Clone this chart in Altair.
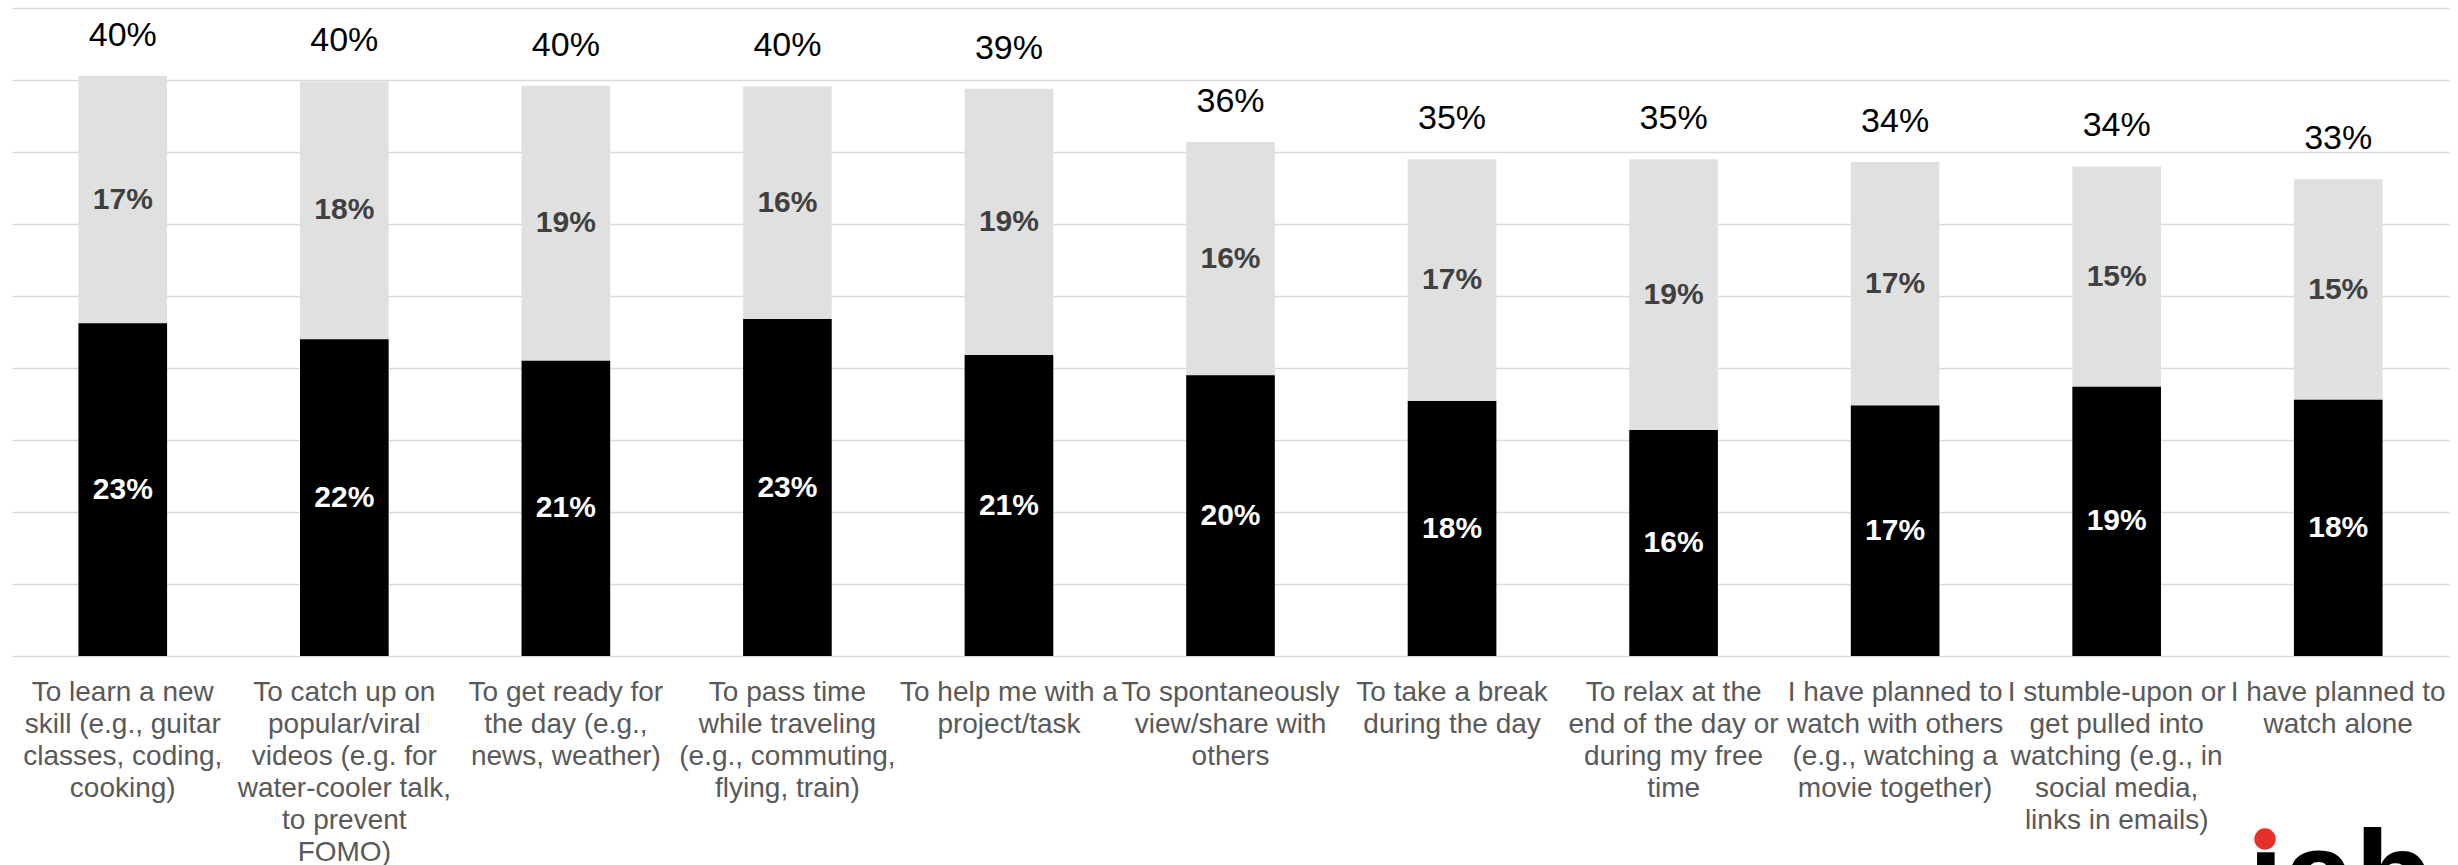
import altair as alt
import pandas as pd

# Categories (line breaks marked with "|")
categories = [
    "To learn a new|skill (e.g., guitar|classes, coding,|cooking)",
    "To catch up on|popular/viral|videos (e.g. for|water-cooler talk,|to prevent|FOMO)",
    "To get ready for|the day (e.g.,|news, weather)",
    "To pass time|while traveling|(e.g., commuting,|flying, train)",
    "To help me with a|project/task",
    "To spontaneously|view/share with|others",
    "To take a break|during the day",
    "To relax at the|end of the day or|during my free|time",
    "I have planned to|watch with others|(e.g., watching a|movie together)",
    "I stumble-upon or|get pulled into|watching (e.g., in|social media,|links in emails)",
    "I have planned to|watch alone",
]

# Bar heights (percent)
black_values = [23.1, 22.0, 20.5, 23.4, 20.9, 19.5, 17.7, 15.7, 17.4, 18.7, 17.8]
total_values = [40.3, 39.9, 39.6, 39.55, 39.4, 35.7, 34.5, 34.5, 34.3, 34.0, 33.1]

# Printed labels
black_labels = ["23%", "22%", "21%", "23%", "21%", "20%", "18%", "16%", "17%", "19%", "18%"]
grey_labels = ["17%", "18%", "19%", "16%", "19%", "16%", "17%", "19%", "17%", "15%", "15%"]
total_labels = ["40%", "40%", "40%", "40%", "39%", "36%", "35%", "35%", "34%", "34%", "33%"]

grid_values = [0, 5, 10, 15, 20, 25, 30, 35, 40, 45]

df = pd.DataFrame({
    "cat": categories,
    "black": black_values,
    "total": total_values,
    "black_lbl": black_labels,
    "grey_lbl": grey_labels,
    "total_lbl": total_labels,
})
df["black_mid"] = df["black"] / 2
df["grey_mid"] = (df["black"] + df["total"]) / 2

FONT = "Liberation Sans"

x_enc = alt.X(
    "cat:N",
    sort=categories,
    scale=alt.Scale(paddingInner=0.6, paddingOuter=0.3),
    axis=alt.Axis(
        title=None,
        labelExpr="split(datum.label, '|')",
        labelAngle=0,
        labelFont=FONT,
        labelFontSize=28,
        labelColor="#595959",
        labelLineHeight=32,
        labelPadding=22,
        labelLimit=400,
        labelOverlap=False,
        labelBound=False,
        ticks=False,
        domain=False,
        grid=False,
    ),
)

y_scale = alt.Scale(domain=[0, 45], nice=False)
y_axis = alt.Axis(
    title=None,
    values=grid_values,
    labels=False,
    ticks=False,
    domain=False,
    grid=True,
    gridColor="#D9D9D9",
    gridWidth=1.6,
)

base = alt.Chart(df)

grey_bar = base.mark_bar(color="#E0E0E0").encode(
    x=x_enc,
    y=alt.Y("total:Q", scale=y_scale, axis=y_axis),
)
black_bar = base.mark_bar(color="#000000").encode(
    x=alt.X("cat:N", sort=categories),
    y=alt.Y("black:Q", scale=y_scale),
)
grey_text = base.mark_text(
    font=FONT, fontSize=30, fontWeight="bold", color="#404040", baseline="middle"
).encode(
    x=alt.X("cat:N", sort=categories),
    y=alt.Y("grey_mid:Q", scale=y_scale),
    text="grey_lbl:N",
)
black_text = base.mark_text(
    font=FONT, fontSize=30, fontWeight="bold", color="#FFFFFF", baseline="middle"
).encode(
    x=alt.X("cat:N", sort=categories),
    y=alt.Y("black_mid:Q", scale=y_scale),
    text="black_lbl:N",
)
total_text = base.mark_text(
    font=FONT, fontSize=34, color="#000000", baseline="alphabetic", dy=-30
).encode(
    x=alt.X("cat:N", sort=categories),
    y=alt.Y("total:Q", scale=y_scale),
    text="total_lbl:N",
)

logo_df = pd.DataFrame({"t": ["\u0131ab"]})
logo_text = alt.Chart(logo_df).mark_text(
    font=FONT, fontSize=128, fontWeight="bold", color="#000000",
    align="left", baseline="alphabetic",
).encode(
    x=alt.value(2236),
    y=alt.value(912),
    text="t:N",
)
logo_dot = alt.Chart(logo_df).mark_point(
    filled=True, shape="circle", color="#E8302A", opacity=1, size=460
).encode(
    x=alt.value(2253),
    y=alt.value(831),
)

chart = (
    alt.layer(grey_bar, black_bar, grey_text, black_text, total_text, logo_text, logo_dot)
    .properties(
        width=2437,
        height=648,
        autosize=alt.AutoSizeParams(type="none"),
        padding={"left": 12, "top": 8, "right": 9, "bottom": 209},
        background="white",
    )
    .configure_view(strokeWidth=0)
)

chart.save("out.html", embed_options={"renderer": "svg", "actions": False})
